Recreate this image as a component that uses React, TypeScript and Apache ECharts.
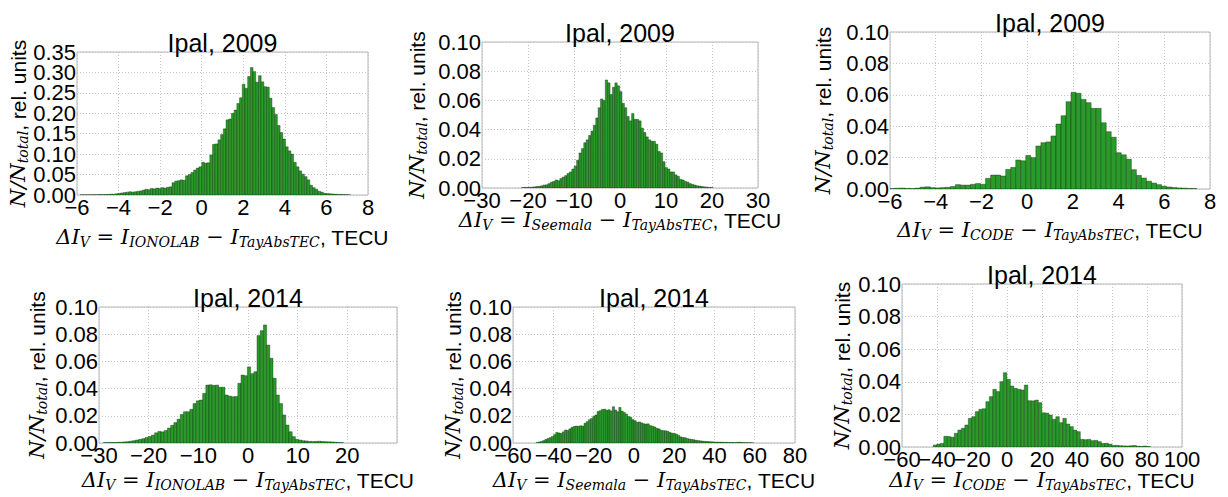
import React, { useEffect, useRef } from "react";
import * as echarts from "echarts";

// ---------- data ----------
const titles = ["Ipal, 2009", "Ipal, 2009", "Ipal, 2009", "Ipal, 2014", "Ipal, 2014", "Ipal, 2014"];
const models = ["IONOLAB", "Seemala", "CODE", "IONOLAB", "Seemala", "CODE"];

// tick labels of each panel
const xTicks = [
  [-6, -4, -2, 0, 2, 4, 6, 8],
  [-30, -20, -10, 0, 10, 20, 30],
  [-6, -4, -2, 0, 2, 4, 6, 8],
  [-30, -20, -10, 0, 10, 20],
  [-60, -40, -20, 0, 20, 40, 60, 80],
  [-60, -40, -20, 0, 20, 40, 60, 80, 100],
];
const yTicks = [
  [0, 0.05, 0.1, 0.15, 0.2, 0.25, 0.3, 0.35],
  [0, 0.02, 0.04, 0.06, 0.08, 0.1],
  [0, 0.02, 0.04, 0.06, 0.08, 0.1],
  [0, 0.02, 0.04, 0.06, 0.08, 0.1],
  [0, 0.02, 0.04, 0.06, 0.08, 0.1],
  [0, 0.02, 0.04, 0.06, 0.08, 0.1],
];
// x axis: [min, max, interval]; y axis: [max, interval]
const xAxes = [
  [-6, 8, 2],
  [-30, 30, 10],
  [-6, 8, 2],
  [-30, 30, 10],
  [-60, 80, 20],
  [-60, 100, 20],
];
const yAxes = [
  [0.35, 0.05],
  [0.1, 0.02],
  [0.1, 0.02],
  [0.1, 0.02],
  [0.1, 0.02],
  [0.1, 0.02],
];

// histogram bins: first edge, bin width, heights
const ionolab2009Start = -5.85;
const ionolab2009Width = 0.13;
const ionolab2009 = [
  0.0005, 0.0005, 0.0005, 0.0005, 0.0007, 0.0007, 0.0008, 0.001, 0.001, 0.0012,
  0.0015, 0.002, 0.002, 0.003, 0.004, 0.005, 0.006, 0.007, 0.008, 0.007,
  0.008, 0.009, 0.01, 0.012, 0.014, 0.013, 0.016, 0.015, 0.017, 0.016,
  0.018, 0.017, 0.019, 0.02, 0.03, 0.034, 0.035, 0.037, 0.036, 0.047,
  0.05, 0.055, 0.061, 0.066, 0.069, 0.08, 0.078, 0.079, 0.098, 0.124,
  0.125, 0.135, 0.148, 0.162, 0.184, 0.186, 0.2, 0.208, 0.224, 0.238,
  0.271, 0.261, 0.29, 0.312, 0.302, 0.276, 0.292, 0.277, 0.265, 0.264,
  0.237, 0.214, 0.197, 0.17, 0.153, 0.137, 0.118, 0.108, 0.1, 0.08,
  0.069, 0.059, 0.051, 0.045, 0.037, 0.024, 0.018, 0.014, 0.009, 0.007,
  0.004, 0.0035, 0.003, 0.0025, 0.002, 0.0015, 0.0012, 0.001, 0.0008, 0.0005,
];

const seemala2009Start = -21.4;
const seemala2009Width = 0.52;
const seemala2009 = [
  0.0003, 0.0004, 0.0004, 0.0005, 0.0006, 0.0008, 0.001, 0.0012, 0.0015, 0.002,
  0.0022, 0.003, 0.004, 0.0045, 0.0055, 0.005, 0.0065, 0.0075, 0.0085, 0.01,
  0.011, 0.013, 0.015, 0.019, 0.024, 0.027, 0.031, 0.033, 0.036, 0.039,
  0.043, 0.048, 0.055, 0.061, 0.06, 0.074, 0.072, 0.064, 0.069, 0.072,
  0.07, 0.066, 0.058, 0.055, 0.049, 0.046, 0.051, 0.047, 0.047, 0.046,
  0.041, 0.038, 0.035, 0.033, 0.032, 0.032, 0.03, 0.025, 0.024, 0.018,
  0.014, 0.013, 0.011, 0.011, 0.009, 0.008, 0.006, 0.0055, 0.0045, 0.004,
  0.003, 0.0025, 0.002, 0.0015, 0.0013, 0.001, 0.0008, 0.0006, 0.0004, 0.0003,
];

const code2009Start = -6.0;
const code2009Width = 0.22;
const code2009 = [
  0.0003, 0.0005, 0.0006, 0.0004, 0.0003, 0.0006, 0.0012, 0.0014, 0.0009, 0.0007,
  0.0009, 0.0011, 0.0016, 0.0028, 0.0025, 0.0025, 0.003, 0.0035, 0.003, 0.0068,
  0.0089, 0.0089, 0.0083, 0.0125, 0.0138, 0.0185, 0.018, 0.0214, 0.02, 0.0274,
  0.0295, 0.03, 0.0338, 0.0414, 0.0467, 0.0556, 0.0616, 0.061, 0.0571, 0.055,
  0.0514, 0.0514, 0.0422, 0.0365, 0.033, 0.0231, 0.0218, 0.019, 0.0123, 0.0087,
  0.007, 0.005, 0.0038, 0.0028, 0.0018, 0.0013, 0.001, 0.0007, 0.0006, 0.0004,
  0.0003,
];

const ionolab2014Start = -29.1;
const ionolab2014Width = 0.644;
const ionolab2014 = [
  0.0003, 0.0003, 0.0004, 0.0004, 0.0005, 0.0006, 0.0008, 0.001, 0.0013, 0.0017,
  0.0022, 0.0027, 0.0032, 0.004, 0.0048, 0.0058, 0.0075, 0.0085, 0.0082, 0.0092,
  0.011, 0.013, 0.015, 0.0175, 0.021, 0.023, 0.023, 0.0248, 0.029, 0.031,
  0.0316, 0.0365, 0.0426, 0.0428, 0.0424, 0.0426, 0.041, 0.041, 0.0353, 0.0345,
  0.034, 0.0342, 0.0439, 0.05, 0.0495, 0.056, 0.051, 0.0524, 0.079, 0.0826,
  0.0868, 0.072, 0.0623, 0.0476, 0.0353, 0.029, 0.0206, 0.0132, 0.0083, 0.0047,
  0.0027, 0.0022, 0.0017, 0.0015, 0.0012, 0.0011, 0.0012, 0.0013, 0.0011, 0.001,
  0.0009, 0.0008, 0.0006, 0.0004, 0.0003,
];

const seemala2014Start = -48.5;
const seemala2014Width = 1.08;
const seemala2014 = [
  0.0004, 0.0008, 0.0012, 0.0018, 0.0026, 0.0033, 0.004, 0.0048, 0.0062, 0.0078,
  0.0074, 0.0071, 0.0082, 0.0096, 0.0092, 0.0104, 0.0115, 0.0122, 0.0125, 0.0123,
  0.0127, 0.0124, 0.0145, 0.0157, 0.0172, 0.0181, 0.0196, 0.0206, 0.0232, 0.0238,
  0.0247, 0.0249, 0.0241, 0.0245, 0.0236, 0.0267, 0.0243, 0.023, 0.0262, 0.0235,
  0.0225, 0.0213, 0.0195, 0.0189, 0.0172, 0.0164, 0.0152, 0.0155, 0.0148, 0.0142,
  0.0139, 0.0141, 0.0128, 0.0124, 0.0118, 0.0108, 0.0104, 0.0094, 0.0091, 0.009,
  0.0086, 0.0078, 0.0072, 0.0071, 0.0065, 0.0056, 0.0045, 0.004, 0.0039, 0.0033,
  0.0029, 0.0027, 0.0024, 0.002, 0.0018, 0.0016, 0.0014, 0.0012, 0.0011, 0.001,
  0.0009, 0.0008, 0.0007, 0.0007, 0.0006, 0.0006, 0.0005, 0.0005, 0.0004, 0.0004,
  0.0004, 0.0003, 0.0005, 0.0006, 0.0004, 0.0003, 0.0002, 0.0002, 0.0002, 0.0001,
];

const code2014Start = -42.1;
const code2014Width = 2.0;
const code2014 = [
  0.0012, 0.0018, 0.0022, 0.0066, 0.0064, 0.006, 0.0084, 0.0104, 0.0115, 0.0135,
  0.0176, 0.0186, 0.0217, 0.0231, 0.0235, 0.0278, 0.0309, 0.0354, 0.034, 0.0401,
  0.0456, 0.0415, 0.0374, 0.036, 0.0354, 0.035, 0.038, 0.0284, 0.0283, 0.0288,
  0.0272, 0.021, 0.0208, 0.0196, 0.017, 0.0186, 0.0149, 0.0176, 0.0141, 0.0125,
  0.0104, 0.0094, 0.0047, 0.0045, 0.0047, 0.0039, 0.0041, 0.0033, 0.0022, 0.0023,
  0.0018, 0.001, 0.001, 0.0008, 0.0007, 0.0006, 0.0008, 0.0009, 0.0005, 0.0004,
  0.0006, 0.0003,
];

const binStarts = [ionolab2009Start, seemala2009Start, code2009Start, ionolab2014Start, seemala2014Start, code2014Start];
const binWidths = [ionolab2009Width, seemala2009Width, code2009Width, ionolab2014Width, seemala2014Width, code2014Width];
const binValues = [ionolab2009, seemala2009, code2009, ionolab2014, seemala2014, code2014];

// ---------- layout & style ----------
const grids = [
  { left: 77, top: 52, width: 291, height: 143 },
  { left: 482, top: 42, width: 276, height: 146 },
  { left: 890, top: 32, width: 320, height: 157 },
  { left: 99, top: 307, width: 298, height: 136 },
  { left: 513, top: 307, width: 282, height: 136 },
  { left: 902, top: 284, width: 280, height: 163 },
];
// distance of axis-name centres from the plot edges
const xNameOffset = [42, 32, 41, 37, 37, 33];
const yNameOffset = [59, 65, 67, 62, 60, 60];

const SANS = '"Liberation Sans", Arial, sans-serif';
const SERIF = '"DejaVu Serif", serif';
const BAR = "#2a9a2a";
const EDGE = "rgba(0,30,0,0.7)";

const rich = {
  m: { fontFamily: SERIF, fontStyle: "italic", fontSize: 21, fill: "#000", color: "#000" },
  o: { fontFamily: SERIF, fontSize: 21, fill: "#000", color: "#000" },
  s: { fontFamily: SERIF, fontStyle: "italic", fontSize: 14, fill: "#000", color: "#000", padding: [10, 0, 0, 0] },
  n: { fontFamily: SANS, fontSize: 21, fill: "#000", color: "#000" },
};

export default function App() {
  const ref = useRef<HTMLDivElement>(null);

  useEffect(() => {
    if (!ref.current) return;
    const chart = echarts.init(ref.current, undefined, { renderer: "svg" });

    const gridOpt = grids.map((g) => ({
      ...g,
      show: true,
      borderColor: "#b4b4b4",
      borderWidth: 1,
      backgroundColor: "transparent",
      containLabel: false,
    }));

    const splitLine = { show: true, lineStyle: { color: "#c4c4c4", type: [1, 2], width: 1 } };

    const xAxisOpt = xAxes.map((a, i) => ({
      type: "value",
      gridIndex: i,
      min: a[0],
      max: a[1],
      interval: a[2],
      axisLine: { show: false },
      axisTick: { show: false },
      splitLine,
      axisLabel: { show: false },
    }));

    const yAxisOpt = yAxes.map((a, i) => ({
      type: "value",
      gridIndex: i,
      min: 0,
      max: a[0],
      interval: a[1],
      axisLine: { show: false },
      axisTick: { show: false },
      splitLine,
      axisLabel: { show: false },
    }));

    const seriesOpt = binValues.map((vals, i) => ({
      type: "custom",
      xAxisIndex: i,
      yAxisIndex: i,
      clip: true,
      encode: { x: [0, 1], y: 2 },
      data: vals.map((v, k) => [binStarts[i] + k * binWidths[i], binStarts[i] + (k + 1) * binWidths[i], v]),
      renderItem: (_params: any, api: any) => {
        const a = api.coord([api.value(0), api.value(2)]);
        const b = api.coord([api.value(1), 0]);
        return {
          type: "rect",
          shape: { x: a[0], y: a[1], width: b[0] - a[0], height: b[1] - a[1] },
          style: { fill: BAR, stroke: EDGE, lineWidth: 0.5 },
        };
      },
    }));

    chart.setOption({
      animation: false,
      backgroundColor: "#fff",
      grid: gridOpt,
      xAxis: xAxisOpt,
      yAxis: yAxisOpt,
      series: seriesOpt,
    });

    const graphics: any[] = [];
    grids.forEach((g, i) => {
      const cx = g.left + g.width / 2;
      const cy = g.top + g.height / 2;
      // tick labels placed through the axes' own scales
      xTicks[i].forEach((t) => {
        const p = chart.convertToPixel({ gridIndex: i }, [t, 0]) as number[];
        graphics.push({
          type: "text",
          x: p[0],
          y: p[1] + 1,
          style: {
            text: String(t).replace("-", "\u2212"),
            fontFamily: SANS,
            fontSize: 22,
            fill: "#000",
            align: "center",
            verticalAlign: "top",
          },
        });
      });
      yTicks[i].forEach((t) => {
        const p = chart.convertToPixel({ gridIndex: i }, [xAxes[i][0], t]) as number[];
        graphics.push({
          type: "text",
          x: p[0] - 1,
          y: p[1],
          style: {
            text: t.toFixed(2),
            fontFamily: SANS,
            fontSize: 22,
            fill: "#000",
            align: "right",
            verticalAlign: "middle",
          },
        });
      });
      graphics.push({
        type: "text",
        x: cx,
        y: g.top + 3,
        style: {
          text: titles[i],
          fontFamily: SANS,
          fontSize: 25,
          fill: "#000",
          align: "center",
          verticalAlign: "bottom",
        },
      });
      graphics.push({
        type: "text",
        x: cx,
        y: g.top + g.height + xNameOffset[i],
        style: {
          text: `{m|\u0394I}{s|V}{o| = }{m|I}{s|${models[i]}}{o| \u2212 }{m|I}{s|TayAbsTEC}{n|, TECU}`,
          rich,
          align: "center",
          verticalAlign: "middle",
        },
      });
      graphics.push({
        type: "text",
        x: g.left - yNameOffset[i],
        y: cy,
        rotation: Math.PI / 2,
        style: {
          text: `{m|N/N}{s|total}{n|, rel. units}`,
          rich,
          align: "center",
          verticalAlign: "middle",
        },
      });
    });

    chart.setOption({ graphic: { elements: graphics } });

    return () => chart.dispose();
  }, []);

  return (
    <div
      ref={ref}
      style={{ position: "absolute", left: 0, top: 0, width: 1228, height: 497, background: "#fff" }}
    />
  );
}
